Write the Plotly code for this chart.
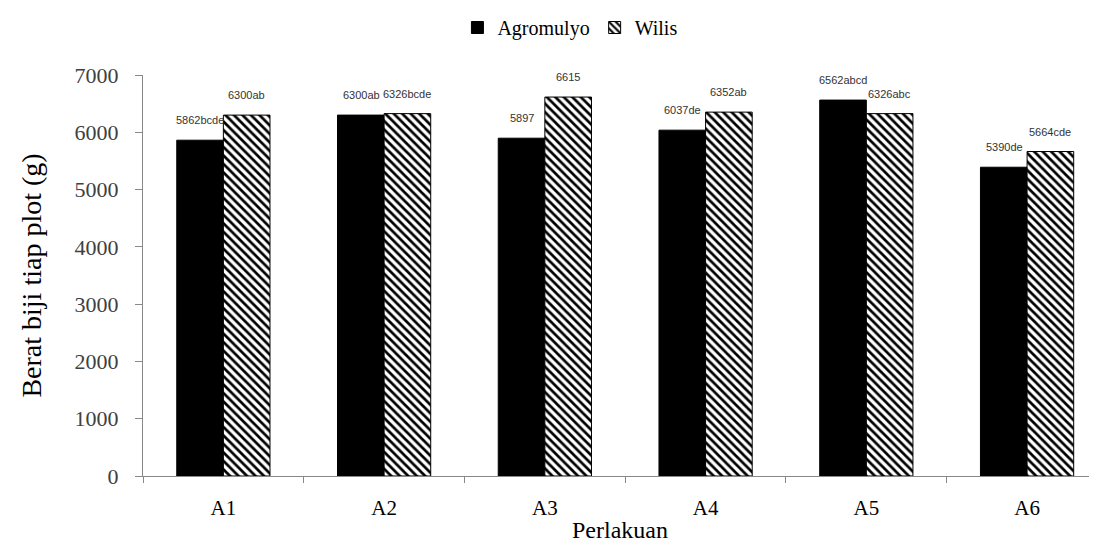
import plotly.graph_objects as go

categories = ["A1", "A2", "A3", "A4", "A5", "A6"]
agromulyo = [5862, 6300, 5897, 6037, 6562, 5390]
wilis = [6300, 6326, 6615, 6352, 6326, 5664]
agromulyo_letters = ["bcde", "ab", "", "de", "abcd", "de"]
wilis_letters = ["ab", "bcde", "", "ab", "abc", "cde"]
y_ticks = [0, 1000, 2000, 3000, 4000, 5000, 6000, 7000]
series_names = ["Agromulyo", "Wilis"]

serif = "Liberation Serif"

fig = go.Figure()
fig.add_trace(go.Bar(
    name=series_names[0], x=categories, y=agromulyo,
    marker=dict(color="black", line=dict(color="black", width=1)),
))
fig.add_trace(go.Bar(
    name=series_names[1], x=categories, y=wilis,
    marker=dict(color="white", line=dict(color="black", width=1),
                pattern=dict(shape="\\", fgcolor="black", bgcolor="white",
                             size=6, solidity=0.45, fillmode="replace")),
))

lab_font = dict(family="Liberation Sans", size=11, color="#333")
annotations = []
for cat, v, l in zip(categories, agromulyo, agromulyo_letters):
    annotations.append(dict(x=cat, y=v, text=f"{v}{l}", xshift=-23, yshift=12,
                            yanchor="bottom", showarrow=False, font=lab_font))
for cat, v, l in zip(categories, wilis, wilis_letters):
    annotations.append(dict(x=cat, y=v, text=f"{v}{l}", xshift=23, yshift=12,
                            yanchor="bottom", showarrow=False, font=lab_font))

fig.update_layout(
    template="none",
    width=1089, height=546,
    margin=dict(l=135, r=0, t=67, b=78, autoexpand=False),
    paper_bgcolor="white", plot_bgcolor="white",
    barmode="group", bargap=0.42, bargroupgap=0,
    font=dict(family=serif, color="black"),
    legend=dict(orientation="h", x=0.516, xref="container", xanchor="center",
                y=1.0, yref="container", yanchor="top",
                font=dict(family=serif, size=20, color="black"), itemwidth=30,
                traceorder="normal"),
    annotations=annotations,
    xaxis=dict(range=[-0.5, 5.435], showline=True, linecolor="#888", linewidth=1,
               automargin=False,
               ticks="outside", tickson="boundaries", ticklen=6, tickcolor="#888",
               tickfont=dict(family=serif, size=21, color="black"),
               ticklabelstandoff=13,
               title=dict(text="Perlakuan", font=dict(family=serif, size=24), standoff=1),
               showgrid=False, zeroline=False),
    yaxis=dict(range=[0, 7000], tickvals=y_ticks, showline=True, linecolor="#888",
               linewidth=1, automargin=False, ticks="outside", ticklen=7, tickcolor="#888",
               tickfont=dict(family=serif, size=22, color="#404040"),
               ticklabelstandoff=12,
               title=dict(text="Berat biji tiap plot (g)", font=dict(family=serif, size=28),
                          standoff=24),
               showgrid=False, zeroline=False),
)

fig.write_html("out.html")
